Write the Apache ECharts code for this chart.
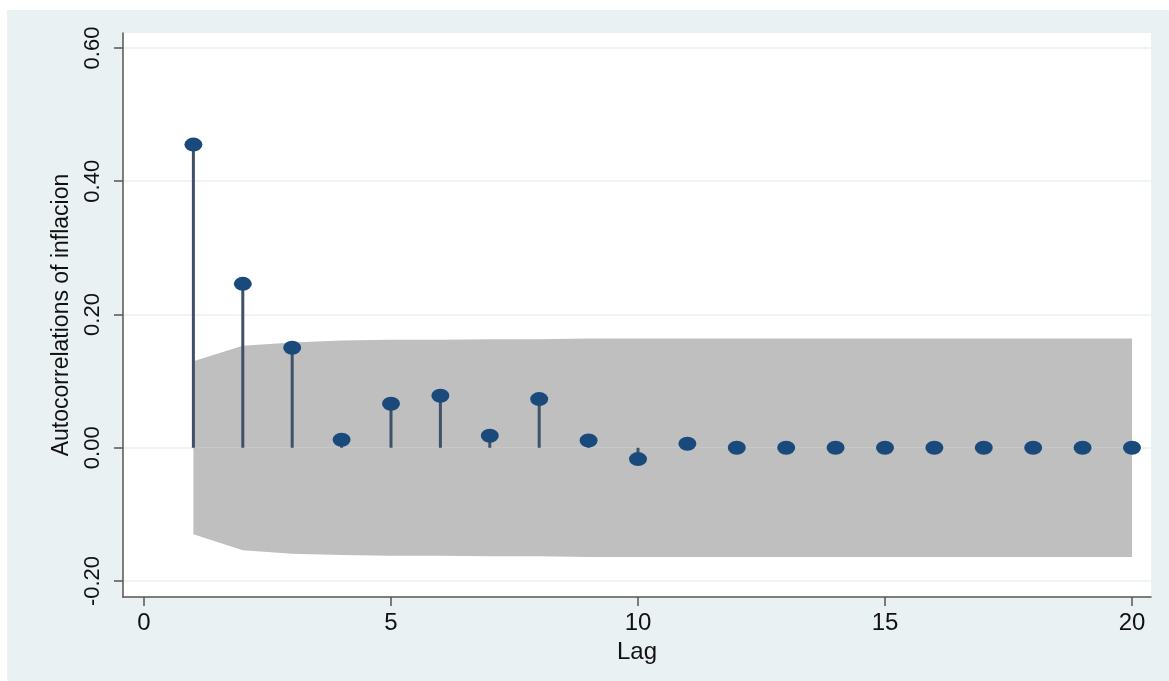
<!DOCTYPE html>
<html>
<head>
<meta charset="utf-8">
<script src="https://cdn.jsdelivr.net/npm/echarts@6/dist/echarts.min.js"></script>
<style>
html,body{margin:0;padding:0;background:#ffffff;}
#c{width:1169px;height:681px;}
</style>
</head>
<body>
<div id="c"></div>
<script>
// Data
const lags = [1,2,3,4,5,6,7,8,9,10,11,12,13,14,15,16,17,18,19,20];
const acf = [0.455,0.246,0.150,0.012,0.066,0.078,0.018,0.073,0.011,-0.017,0.006,0.000,0.000,0.000,0.000,0.000,0.000,0.000,0.000,0.000];
const bandUpper = [0.130,0.153,0.158,0.161,0.162,0.162,0.163,0.163,0.164,0.164,0.164,0.164,0.164,0.164,0.164,0.164,0.164,0.164,0.164,0.164];
const bandLower = [-0.130,-0.154,-0.159,-0.161,-0.162,-0.162,-0.163,-0.163,-0.164,-0.164,-0.164,-0.164,-0.164,-0.164,-0.164,-0.164,-0.164,-0.164,-0.164,-0.164];
const xTicks = [0,5,10,15,20];
const yTicks = [-0.2,0,0.2,0.4,0.6];
const xTitle = 'Lag';
const yTitle = 'Autocorrelations of inflacion';

const pair = arr => lags.map((l,i)=>[l,arr[i]]);

const chart = echarts.init(document.getElementById('c'), null, {renderer:'canvas'});
const font = 'Liberation Sans, Arial, sans-serif';
chart.setOption({
  animation:false,
  backgroundColor:'#ffffff',
  graphic:[{type:'rect',z:-10,shape:{x:7,y:10,width:1162,height:671},style:{fill:'#e9f1f3'}}],
  grid:{left:123,right:18,top:33,bottom:84,show:true,backgroundColor:'#ffffff',borderWidth:0},
  xAxis:{
    type:'value',min:-0.425,max:20.385,
    name:xTitle,nameLocation:'middle',nameGap:38,
    nameTextStyle:{fontFamily:font,fontSize:24,color:'#111'},
    axisLine:{show:true,onZero:false,lineStyle:{color:'#555',width:1.5}},
    axisTick:{show:true,length:9,customValues:xTicks,lineStyle:{color:'#555',width:1.5}},
    axisLabel:{customValues:xTicks,fontFamily:font,fontSize:24,color:'#111',margin:14},
    splitLine:{show:false}
  },
  yAxis:{
    type:'value',min:-0.224,max:0.6225,
    name:yTitle,nameLocation:'middle',nameGap:50,
    nameTextStyle:{fontFamily:font,fontSize:23,color:'#111'},
    axisLine:{show:true,onZero:false,lineStyle:{color:'#555',width:1.5}},
    axisTick:{show:true,length:9,customValues:yTicks,lineStyle:{color:'#555',width:1.5}},
    axisLabel:{customValues:yTicks,rotate:90,fontFamily:font,fontSize:22,color:'#111',margin:19,
      formatter:v=>v.toFixed(2)},
    splitLine:{show:true,lineStyle:{color:'#e8eff1',width:1.5}}
  },
  series:[
    {type:'line',data:pair(bandUpper),symbol:'none',lineStyle:{width:0},
     areaStyle:{color:'#bfbfbf',opacity:1},itemStyle:{color:'#bfbfbf'},z:1,silent:true},
    {type:'line',data:pair(bandLower),symbol:'none',lineStyle:{width:0},
     areaStyle:{color:'#bfbfbf',opacity:1},itemStyle:{color:'#bfbfbf'},z:1,silent:true},
    {type:'bar',data:pair(acf),barWidth:3,itemStyle:{color:'#3f5166'},z:2},
    {type:'scatter',data:pair(acf),symbol:'circle',symbolSize:[18,14],itemStyle:{color:'#1a4a7c',opacity:1},z:3}
  ]
});
</script>
</body>
</html>
